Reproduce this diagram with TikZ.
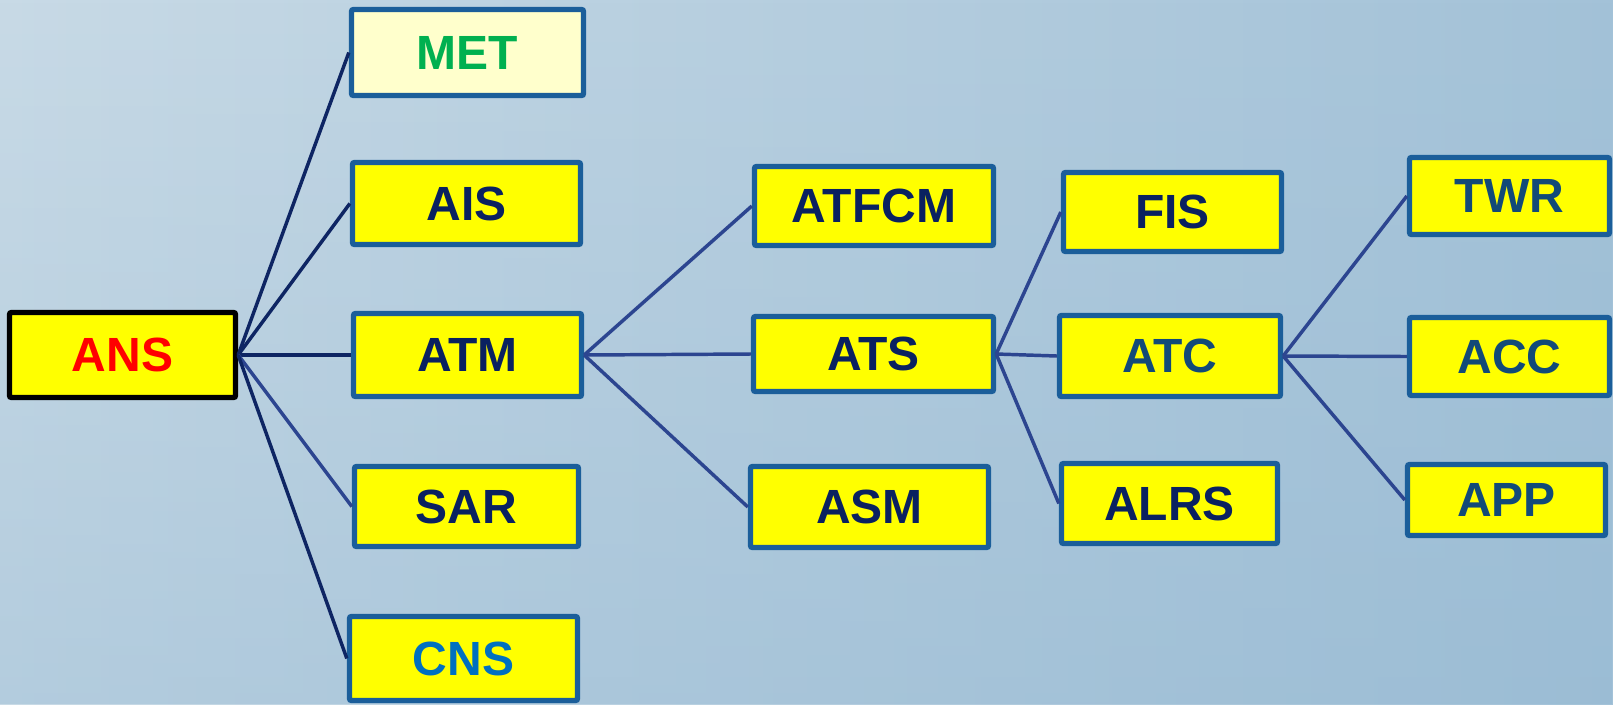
\documentclass[tikz,border=0pt]{standalone}
\usepackage{fontspec}
\setmainfont{Liberation Sans}
\usetikzlibrary{fadings}
\definecolor{bgL}{HTML}{C8DAE6}
\definecolor{bgR}{HTML}{A3C2D8}
\definecolor{bgDark}{HTML}{8DB3CF}
\definecolor{boxline}{HTML}{1B5E9A}
\definecolor{boxfill}{HTML}{FFFF00}
\definecolor{metfill}{HTML}{FFFFCC}
\definecolor{navytext}{HTML}{0A2160}
\definecolor{tealtext}{HTML}{124A78}
\definecolor{metgreen}{HTML}{00B050}
\definecolor{cnsblue}{HTML}{0070C0}
\definecolor{linkdark}{HTML}{0E2563}
\definecolor{linkblue}{HTML}{2C4590}

\tikzset{every picture/.style={line width=0.75pt}}
\tikzset{
  unitbox/.style={draw=boxline, fill=boxfill, line width=4pt, rounded corners=1.5pt,
    inner sep=0pt, font=\fontsize{36}{40}\selectfont\bfseries, text=navytext},
  rootbox/.style={unitbox, draw=black},
  linkA/.style={draw=linkdark, line width=2.6pt},
  linkB/.style={draw=linkblue, line width=2.6pt}
}

\begin{document}
\begin{tikzpicture}[x=0.75pt,y=0.75pt,yscale=-1,xscale=1]
	\useasboundingbox (0,0) rectangle (1613,704);
	% Background
	\shade[left color=bgL, right color=bgR] (0,0) rectangle (1613,704);
	\fill[bgDark, path fading=north, fill opacity=0.35] (0,0) rectangle (1613,704);
	
	% Root Node
	\node [rootbox, text=red, minimum width=169.5pt, minimum height=63.75pt] (ans) at (122.5,355) {ANS};
	% First level
	\node [unitbox, fill=metfill, text=metgreen, minimum width=174pt, minimum height=64.5pt] (met) at (467.5,52.5) {MET};
	\node [unitbox, minimum width=171pt, minimum height=61.5pt] (ais) at (466.5,203.5) {AIS};
	\node [unitbox, minimum width=171pt, minimum height=62.25pt] (atm) at (467.5,355) {ATM};
	\node [unitbox, minimum width=168pt, minimum height=60pt] (sar) at (466.5,506.5) {SAR};
	\node [unitbox, text=cnsblue, minimum width=171pt, minimum height=63pt] (cns) at (463.5,658.5) {CNS};
	% Second level
	\node [unitbox, minimum width=179.25pt, minimum height=59.25pt] (atfcm) at (874,206) {ATFCM};
	\node [unitbox, minimum width=180pt, minimum height=56.25pt] (ats) at (873.5,354) {ATS};
	\node [unitbox, minimum width=178.5pt, minimum height=60.75pt] (asm) at (869.5,507) {ASM};
	% Third level
	\node [unitbox, minimum width=163.5pt, minimum height=59.25pt] (fis) at (1172.5,212) {FIS};
	\node [unitbox, text=tealtext, minimum width=165.75pt, minimum height=60.75pt] (atc) at (1170,356) {ATC};
	\node [unitbox, minimum width=162pt, minimum height=60pt] (alrs) at (1169.5,503.5) {ALRS};
	% Fourth level
	\node [unitbox, text=tealtext, minimum width=150pt, minimum height=57.75pt] (twr) at (1509.5,196) {TWR};
	\node [unitbox, text=tealtext, minimum width=150pt, minimum height=58.5pt] (acc) at (1509.5,356.5) {ACC};
	\node [unitbox, text=tealtext, minimum width=148.5pt, minimum height=53.25pt] (app) at (1506.5,500) {APP};
	
	% Connection
	\draw [linkA] (ans.east) -- (met.west);
	\draw [linkA] (ans.east) -- (ais.west);
	\draw [linkA] (ans.east) -- (atm.west);
	\draw [linkB] (ans.east) -- (sar.west);
	\draw [linkA] (ans.east) -- (cns.west);
	% Connection
	\draw [linkB] (atm.east) -- (atfcm.west);
	\draw [linkB] (atm.east) -- (ats.west);
	\draw [linkB] (atm.east) -- (asm.west);
	% Connection
	\draw [linkB] (ats.east) -- (fis.west);
	\draw [linkB] (ats.east) -- (atc.west);
	\draw [linkB] (ats.east) -- (alrs.west);
	% Connection
	\draw [linkB] (atc.east) -- (twr.west);
	\draw [linkB] (atc.east) -- (acc.west);
	\draw [linkB] (atc.east) -- (app.west);
	
\end{tikzpicture}
\end{document}
